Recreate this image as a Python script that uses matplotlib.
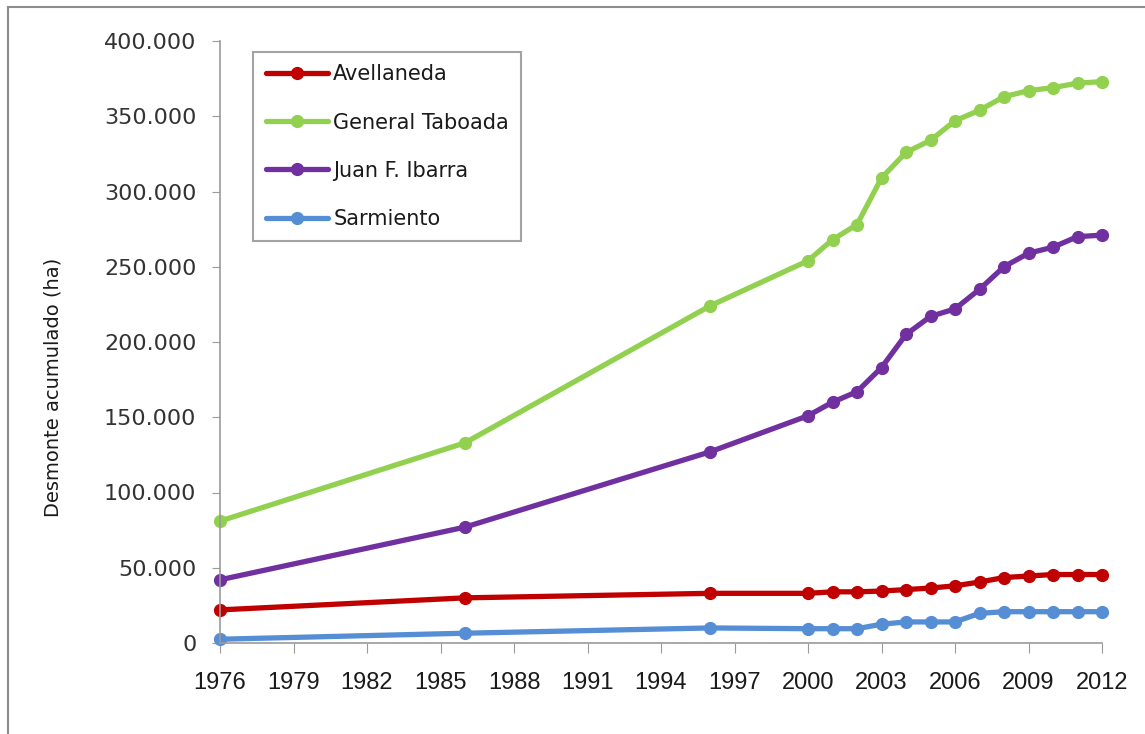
import matplotlib
matplotlib.use("Agg")
import matplotlib.pyplot as plt
from matplotlib.lines import Line2D
from matplotlib.ticker import FuncFormatter

plt.rcParams['font.family'] = ['DejaVu Sans']

# years with a data point
years = [1976, 1986, 1996, 2000, 2001, 2002, 2003, 2004, 2005, 2006,
         2007, 2008, 2009, 2010, 2011, 2012]

# cumulative clearing (ha)
avellaneda = [22000, 30000, 33000, 33000, 34000, 34000, 34500, 35500, 36500, 38000,
              40500, 43500, 44500, 45500, 45500, 45500]
general_taboada = [81000, 133000, 224000, 254000, 268000, 278000, 309000, 326000, 334000, 347000,
                   354000, 363000, 367000, 369000, 372000, 373000]
juan_f_ibarra = [42000, 77000, 127000, 151000, 160000, 167000, 183000, 205000, 217000, 222000,
                 235000, 250000, 259000, 263000, 270000, 271000]
sarmiento = [2500, 6500, 10000, 9500, 9500, 9500, 12500, 14000, 14000, 14000,
             19700, 20800, 20800, 20800, 20800, 20800]

series = [
    ("Avellaneda", avellaneda, "#C00000"),
    ("General Taboada", general_taboada, "#92D050"),
    ("Juan F. Ibarra", juan_f_ibarra, "#7030A0"),
    ("Sarmiento", sarmiento, "#558ED5"),
]

fig = plt.figure(figsize=(11.45, 7.34), dpi=100)
ax = fig.add_axes([220 / 1145, 1 - 643 / 734, (1102 - 220) / 1145, (643 - 41) / 734])

for name, vals, color in series:
    ax.plot(years, vals, color=color, linewidth=3.8, marker='o', markersize=8.5,
            label=name, clip_on=False, solid_capstyle='round')

ax.set_xlim(1976, 2012)
ax.set_ylim(0, 400000)
ax.set_xticks(range(1976, 2013, 3))
ax.set_yticks(range(0, 400001, 50000))
ax.yaxis.set_major_formatter(FuncFormatter(lambda v, p: f"{int(v):,}".replace(",", ".")))

for s in ['top', 'right']:
    ax.spines[s].set_visible(False)
for s in ['left', 'bottom']:
    ax.spines[s].set_color('#9A9A9A')
    ax.spines[s].set_linewidth(1.2)
ax.tick_params(axis='x', direction='out', length=7, color='#9A9A9A', labelsize=17,
               labelcolor='#1A1A1A', pad=14)
ax.tick_params(axis='y', direction='out', length=6, color='#9A9A9A', labelsize=16,
               labelcolor='#333333', pad=11)
for lbl in ax.get_xticklabels():
    lbl.set_fontfamily('Liberation Sans')

# y label sits a bit below the axis middle, as in the original
ax.set_ylabel("Desmonte acumulado (ha)", fontsize=14, color='#1A1A1A')
ax.yaxis.set_label_coords(-0.179, 0.424)

leg = ax.legend(loc='upper left', bbox_to_anchor=(253 / 1145, 1 - 52 / 734),
                bbox_transform=fig.transFigure, fontsize=15, handlelength=3.0,
                handletextpad=0.25, labelspacing=1.35, borderpad=0.6,
                fancybox=False, frameon=True, borderaxespad=0)
leg.get_frame().set_edgecolor('#8C8C8C')
leg.get_frame().set_linewidth(1.5)
for t in leg.get_texts():
    t.set_color('#1A1A1A')

# outer chart border (cropped on the right and bottom)
fig.add_artist(Line2D([8 / 1145, 8 / 1145], [0, 1 - 7 / 734], color='#8C8C8C', linewidth=1.5))
fig.add_artist(Line2D([8 / 1145, 1], [1 - 7 / 734, 1 - 7 / 734], color='#8C8C8C', linewidth=1.5))

fig.savefig("out.png", dpi=100)
